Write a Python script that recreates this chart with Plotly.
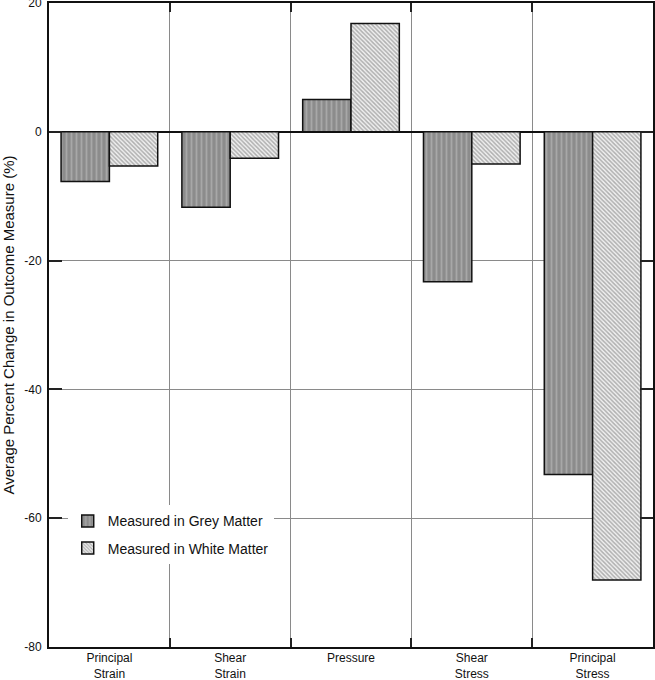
import plotly.graph_objects as go

categories = ["Principal<br>Strain", "Shear<br>Strain", "Pressure", "Shear<br>Stress", "Principal<br>Stress"]
grey_matter = [-7.7, -11.7, 5.0, -23.3, -53.2]
white_matter = [-5.3, -4.1, 16.8, -5.0, -69.6]
y_ticks = [20, 0, -20, -40, -60, -80]
y_tick_labels = ["20", "0", "-20", "-40", "-60", "-80"]

FONT = "Liberation Sans, Arial, Helvetica, sans-serif"

fig = go.Figure()
fig.add_trace(go.Bar(
    x=categories, y=grey_matter, name="Measured in Grey Matter",
    legendgroup="g",
    marker=dict(color="#8c8c8c", line=dict(color="#111111", width=1.5),
                pattern=dict(shape="|", fgcolor="#c4c4c4", bgcolor="#8c8c8c",
                             size=5, solidity=0.35)),
))
fig.add_trace(go.Bar(
    x=categories, y=white_matter, name="Measured in White Matter",
    legendgroup="w",
    marker=dict(color="#f0f0f0", line=dict(color="#111111", width=1.5),
                pattern=dict(shape="\\", fgcolor="#6e6e6e", bgcolor="#f0f0f0",
                             size=3, solidity=0.5)),
))

fig.update_layout(
    width=655, height=680,
    margin=dict(l=49, r=2, t=3, b=33),
    paper_bgcolor="white", plot_bgcolor="white",
    barmode="group", bargap=0.2, bargroupgap=0,
    font=dict(family=FONT, size=12, color="#111111"),
    showlegend=True,
    legend=dict(x=0.031, y=0.22, xanchor="left", yanchor="top",
                bgcolor="white", borderwidth=0, font=dict(size=14),
                traceorder="grouped", tracegroupgap=6),
    xaxis=dict(
        type="category", tickson="boundaries", automargin=False,
        showgrid=True, gridcolor="#8a8a8a", gridwidth=1,
        ticks="inside", ticklen=9, tickcolor="#222222", tickwidth=1.5,
        showline=True, linecolor="#111111", linewidth=2, mirror="ticks",
        tickfont=dict(size=12), ticklabelstandoff=-1,
    ),
    yaxis=dict(
        range=[-80, 20], tickvals=y_ticks, ticktext=y_tick_labels,
        automargin=False, ticklabeloverflow="allow",
        showgrid=True, gridcolor="#8a8a8a", gridwidth=1,
        zeroline=True, zerolinecolor="#111111", zerolinewidth=1.5,
        ticks="inside", ticklen=13, tickcolor="#222222", tickwidth=1.5,
        showline=True, linecolor="#111111", linewidth=2, mirror="ticks",
        tickfont=dict(size=12), ticklabelstandoff=3,
        title=dict(text="Average Percent Change in Outcome Measure (%)",
                   font=dict(size=15), standoff=8),
    ),
)

fig.write_html("out.html",
               config={"displayModeBar": False},
               post_script="document.body.style.margin='0';document.body.style.overflow='hidden';")
